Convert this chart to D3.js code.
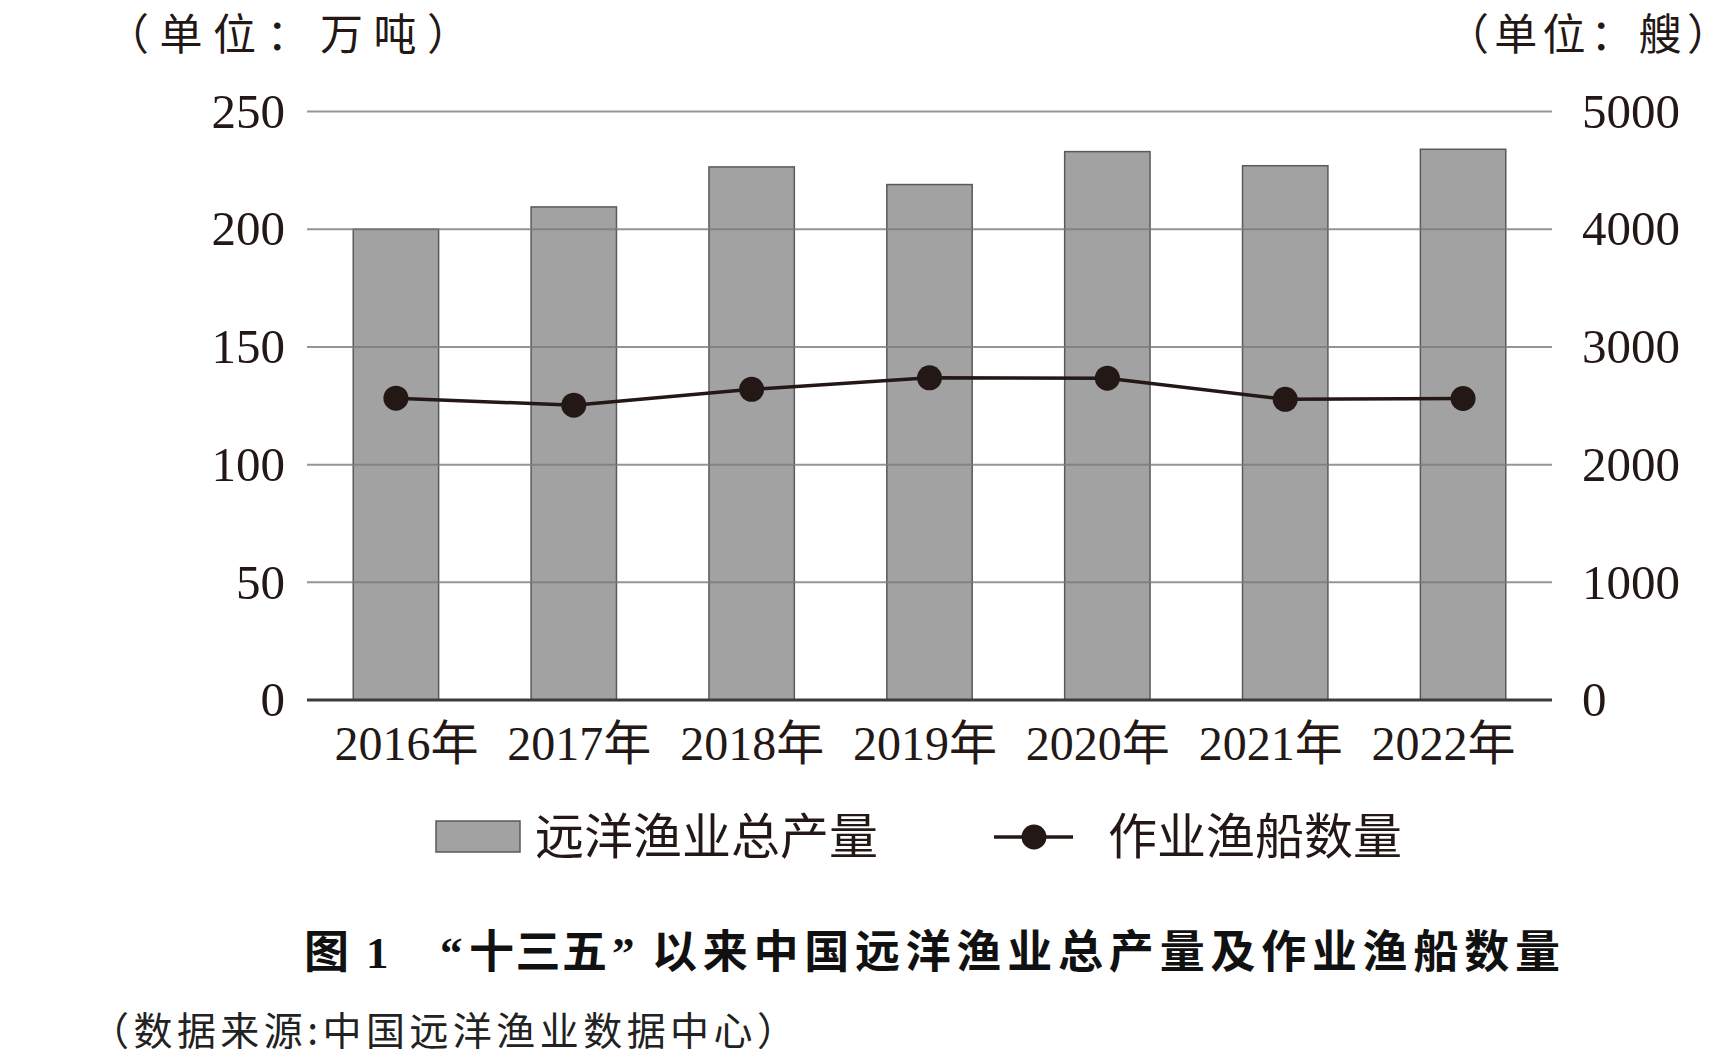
<!DOCTYPE html>
<html>
<head>
<meta charset="utf-8">
<script src="https://cdn.jsdelivr.net/npm/d3@7"></script>
<style>
  body { margin: 0; background: #fff; }
  svg { display: block; }
</style>
</head>
<body>
<svg id="chart"></svg>
<script>
// Data
const years = ["2016年", "2017年", "2018年", "2019年", "2020年", "2021年", "2022年"];
const output = [200, 209.5, 226.5, 219, 233, 227, 234];      // 远洋渔业总产量 (万吨)
const vessels = [2565, 2505, 2640, 2738, 2735, 2555, 2562];  // 作业渔船数量 (艘)
const leftTicks = [0, 50, 100, 150, 200, 250];
const rightTicks = [0, 1000, 2000, 3000, 4000, 5000];

const W = 1732, H = 1064;
const plot = { left: 307, right: 1552, top: 111.6, bottom: 700 };

const latin = "'Liberation Serif', 'Times New Roman', 'Noto Sans CJK SC', serif";
const cjk = "'Noto Sans CJK SC', sans-serif";

const svg = d3.select("#chart")
    .attr("width", W)
    .attr("height", H);

svg.append("rect").attr("width", W).attr("height", H).attr("fill", "#fff");

// Scales
const x = d3.scaleBand()
    .domain(years)
    .range([plot.left, plot.right])
    .paddingInner(0.52)
    .paddingOuter(0.26);

// the year labels sit a little tighter than the bars in the original
const xLabel = d3.scalePoint()
    .domain(years)
    .range([406, 1443]);

const yLeft = d3.scaleLinear().domain([0, 250]).range([plot.bottom, plot.top]);
const yRight = d3.scaleLinear().domain([0, 5000]).range([plot.bottom, plot.top]);

// Bars
svg.append("g")
    .selectAll("rect")
    .data(output)
    .enter().append("rect")
    .attr("x", (d, i) => x(years[i]))
    .attr("y", d => yLeft(d))
    .attr("width", x.bandwidth())
    .attr("height", d => yLeft(0) - yLeft(d))
    .attr("fill", "#a2a2a2")
    .attr("stroke", "#5a5a5a")
    .attr("stroke-width", 1.5);

// Gridlines (drawn over the bars, as in the original)
svg.append("g")
    .selectAll("line")
    .data(leftTicks.filter(d => d > 0))
    .enter().append("line")
    .attr("x1", plot.left)
    .attr("x2", plot.right)
    .attr("y1", d => yLeft(d))
    .attr("y2", d => yLeft(d))
    .attr("stroke", "#7a7a7a")
    .attr("stroke-opacity", 0.8)
    .attr("stroke-width", 2);

// Zero line
svg.append("line")
    .attr("x1", plot.left)
    .attr("x2", plot.right)
    .attr("y1", yLeft(0))
    .attr("y2", yLeft(0))
    .attr("stroke", "#3c3c3c")
    .attr("stroke-width", 3);

// Left axis
const gl = svg.append("g")
    .attr("transform", `translate(${plot.left},0)`)
    .call(d3.axisLeft(yLeft).tickValues(leftTicks).tickSize(0).tickPadding(22));
gl.select(".domain").remove();
gl.selectAll("text")
    .style("font-family", latin)
    .style("font-size", "49px")
    .attr("fill", "#231815");

// Right axis
const gr = svg.append("g")
    .attr("transform", `translate(${plot.right},0)`)
    .call(d3.axisRight(yRight).tickValues(rightTicks).tickFormat(d3.format("d")).tickSize(0).tickPadding(30));
gr.select(".domain").remove();
gr.selectAll("text")
    .style("font-family", latin)
    .style("font-size", "49px")
    .attr("fill", "#231815");

// Bottom axis
const gb = svg.append("g")
    .attr("transform", `translate(0,${plot.bottom})`)
    .call(d3.axisBottom(xLabel).tickSize(0).tickPadding(26));
gb.select(".domain").remove();
gb.selectAll("text")
    .style("font-family", latin)
    .style("font-size", "48px")
    .attr("fill", "#231815");

// Line for vessels
const line = d3.line()
    .x((d, i) => x(years[i]) + x.bandwidth() / 2)
    .y(d => yRight(d));

svg.append("path")
    .datum(vessels)
    .attr("d", line)
    .attr("fill", "none")
    .attr("stroke", "#231815")
    .attr("stroke-width", 3.5);

svg.append("g")
    .selectAll("circle")
    .data(vessels)
    .enter().append("circle")
    .attr("cx", (d, i) => x(years[i]) + x.bandwidth() / 2)
    .attr("cy", d => yRight(d))
    .attr("r", 12.5)
    .attr("fill", "#231815");

// Unit labels
svg.append("text")
    .attr("x", 106)
    .attr("y", 50)
    .attr("textLength", 364)
    .attr("lengthAdjust", "spacing")
    .style("font-family", cjk)
    .style("font-size", "43px")
    .attr("fill", "#231815")
    .text("（单位：万吨）");

svg.append("text")
    .attr("x", 1446)
    .attr("y", 50)
    .attr("textLength", 284)
    .attr("lengthAdjust", "spacing")
    .style("font-family", cjk)
    .style("font-size", "43px")
    .attr("fill", "#231815")
    .text("（单位：艘）");

// Legend
const legend = svg.append("g");
legend.append("rect")
    .attr("x", 436).attr("y", 821)
    .attr("width", 84).attr("height", 31)
    .attr("fill", "#a2a2a2")
    .attr("stroke", "#5a5a5a")
    .attr("stroke-width", 1.5);
legend.append("text")
    .attr("x", 535).attr("y", 854)
    .style("font-family", cjk)
    .style("font-size", "49px")
    .attr("fill", "#231815")
    .text("远洋渔业总产量");

legend.append("line")
    .attr("x1", 994).attr("x2", 1073)
    .attr("y1", 837).attr("y2", 837)
    .attr("stroke", "#231815")
    .attr("stroke-width", 3.5);
legend.append("circle")
    .attr("cx", 1034).attr("cy", 837)
    .attr("r", 12.5)
    .attr("fill", "#231815");
legend.append("text")
    .attr("x", 1108).attr("y", 854)
    .style("font-family", cjk)
    .style("font-size", "49px")
    .attr("fill", "#231815")
    .text("作业渔船数量");

// Caption
const cap = svg.append("text")
    .attr("y", 968)
    .style("font-family", cjk)
    .style("font-size", "45px")
    .style("font-weight", "bold")
    .attr("fill", "#111");
cap.append("tspan").attr("x", 304).text("图");
cap.append("tspan").attr("x", 366).style("font-family", latin).text("1");
cap.append("tspan").attr("x", 440).style("font-family", latin).text("“");
cap.append("tspan")
    .attr("x", 469)
    .attr("textLength", 138)
    .attr("lengthAdjust", "spacing")
    .text("十三五");
cap.append("tspan").attr("x", 612).style("font-family", latin).text("”");
cap.append("tspan")
    .attr("x", 652)
    .attr("textLength", 908)
    .attr("lengthAdjust", "spacing")
    .text("以来中国远洋渔业总产量及作业渔船数量");

// Source
svg.append("text")
    .attr("x", 90)
    .attr("y", 1045)
    .attr("textLength", 706)
    .attr("lengthAdjust", "spacing")
    .style("font-family", cjk)
    .style("font-size", "39px")
    .attr("fill", "#222")
    .text("（数据来源:中国远洋渔业数据中心）");
</script>
</body>
</html>
